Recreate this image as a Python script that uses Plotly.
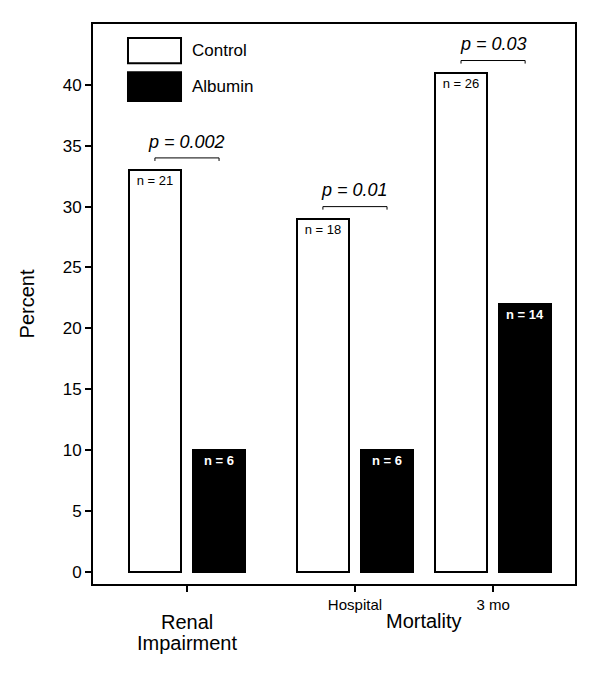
import plotly.graph_objects as go

# ---- data ----
groups = ["Renal Impairment", "Hospital", "3 mo"]
tick_labels = ["", "Hospital", "3 mo"]
control = [33, 29, 41]
albumin = [10, 10, 22]
control_n = ["n = 21", "n = 18", "n = 26"]
albumin_n = ["n = 6", "n = 6", "n = 14"]
p_values = ["p = 0.002", "p = 0.01", "p = 0.03"]
y_ticks = [0, 5, 10, 15, 20, 25, 30, 35, 40]

# ---- layout constants ----
group_x = [0.0, 1.226, 2.234]
offset = 0.234
bar_w = 0.38
FONT = "Liberation Sans, Arial, sans-serif"

cx = [g - offset for g in group_x]
ax = [g + offset for g in group_x]

fig = go.Figure()
fig.add_trace(go.Bar(
    x=cx, y=control, width=bar_w, name="Control",
    marker=dict(color="white", line=dict(color="black", width=2)),
    text=control_n, textposition="inside", insidetextanchor="end",
    textfont=dict(size=13, color="black", family=FONT),
    constraintext="none", showlegend=False, hoverinfo="skip",
))
fig.add_trace(go.Bar(
    x=ax, y=albumin, width=bar_w, name="Albumin",
    marker=dict(color="black", line=dict(color="black", width=2)),
    text=[f"<b>{t}</b>" for t in albumin_n], textposition="inside", insidetextanchor="end",
    textfont=dict(size=13, color="white", family=FONT),
    constraintext="none", showlegend=False, hoverinfo="skip",
))

shapes = []
annotations = []
# p-value brackets
for i in range(len(groups)):
    top = max(control[i], albumin[i])
    yb = top + 1.0
    shapes.append(dict(type="path", xref="x", yref="y",
                       path=f"M {cx[i]},{yb-0.25} L {cx[i]},{yb} L {ax[i]},{yb} L {ax[i]},{yb-0.25}",
                       line=dict(color="black", width=1)))
    annotations.append(dict(x=group_x[i], y=yb + 0.35, xref="x", yref="y",
                            text=f"<i>{p_values[i]}</i>", showarrow=False,
                            yanchor="bottom", font=dict(size=18, family=FONT, color="black")))

# legend drawn manually
shapes.append(dict(type="rect", xref="paper", yref="paper", x0=0.0726, x1=0.1826,
                   y0=0.930, y1=0.975, fillcolor="white", line=dict(color="black", width=2)))
shapes.append(dict(type="rect", xref="paper", yref="paper", x0=0.0726, x1=0.1826,
                   y0=0.8625, y1=0.914, fillcolor="black", line=dict(color="black", width=2)))
annotations.append(dict(x=0.201, y=0.952, xref="paper", yref="paper", text="Control",
                        showarrow=False, xanchor="left", yanchor="middle",
                        font=dict(size=17, family=FONT, color="black")))
annotations.append(dict(x=0.201, y=0.889, xref="paper", yref="paper", text="Albumin",
                        showarrow=False, xanchor="left", yanchor="middle",
                        font=dict(size=17, family=FONT, color="black")))

# category labels under axis
annotations.append(dict(x=group_x[0], y=-0.068, xref="x", yref="paper",
                        text="Renal", showarrow=False, yanchor="middle",
                        font=dict(size=20, family=FONT, color="black")))
annotations.append(dict(x=group_x[0], y=-0.1055, xref="x", yref="paper",
                        text="Impairment", showarrow=False, yanchor="middle",
                        font=dict(size=20, family=FONT, color="black")))
annotations.append(dict(x=(group_x[1] + group_x[2]) / 2, y=-0.066, xref="x", yref="paper",
                        text="Mortality", showarrow=False, yanchor="middle",
                        font=dict(size=20, family=FONT, color="black")))

# page body has an 8px margin: shrink figure so plot area lands where the reference has it
fig.update_layout(
    width=592, height=666,
    margin=dict(l=85, r=25, t=16, b=90),
    plot_bgcolor="white", paper_bgcolor="white",
    font=dict(family=FONT, color="black"),
    shapes=shapes, annotations=annotations,
    showlegend=False, bargap=0,
)
fig.update_xaxes(
    range=[-0.686, 2.832], tickmode="array", tickvals=group_x, ticktext=tick_labels,
    ticks="outside", ticklen=6, tickwidth=1.5, tickcolor="black",
    tickfont=dict(size=15, family=FONT),
    showline=True, linecolor="black", linewidth=2, mirror=True,
    showgrid=False, zeroline=False,
)
fig.update_yaxes(
    range=[-1, 45], tickmode="array", tickvals=y_ticks,
    ticks="outside", ticklen=6, tickwidth=1.5, tickcolor="black",
    tickfont=dict(size=17, family=FONT),
    showline=True, linecolor="black", linewidth=2, mirror=True,
    showgrid=False, zeroline=False,
    title=dict(text="Percent", font=dict(size=20, family=FONT), standoff=23),
)
fig.write_html("out.html")
